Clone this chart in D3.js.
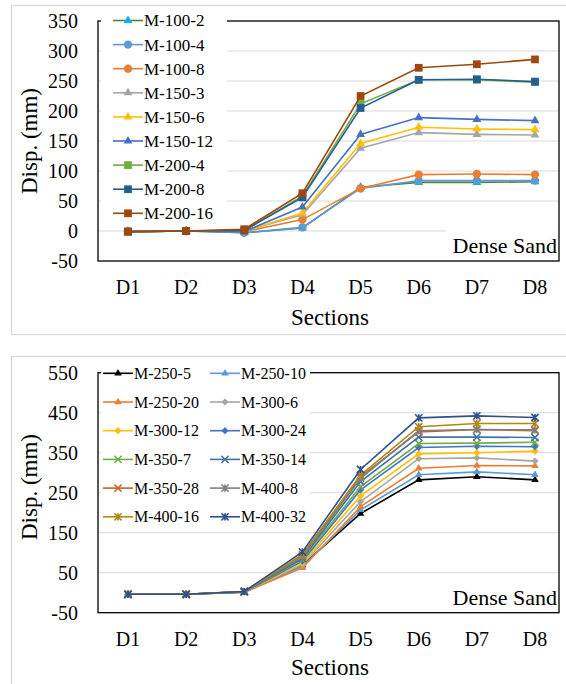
<!DOCTYPE html>
<html>
<head>
<meta charset="utf-8">
<script src="https://cdn.jsdelivr.net/npm/d3@7"></script>
<style>
  body { margin: 0; background: #fff; }
</style>
</head>
<body>
<div id="chart"></div>
<script>
// categories
let sections = ["D1", "D2", "D3", "D4", "D5", "D6", "D7", "D8"];

// top panel (dense sand, M-100..M-200)
let topNames = ["M-100-2", "M-100-4", "M-100-8", "M-150-3", "M-150-6", "M-150-12", "M-200-4", "M-200-8", "M-200-16"];
let topValues = [
    [-1, 0, -3, 5, 73, 81, 81, 82],
    [-1, 0, -3, 6, 71, 84, 84, 84],
    [-1, 0, -1, 19, 71, 94, 95, 94],
    [-1, 0, 0, 27, 138, 164, 161, 160],
    [-1, 0, 0, 30, 146, 173, 170, 169],
    [-1, 0, -1, 40, 161, 189, 186, 184],
    [-1, 0, 1, 58, 212, 252, 252, 248],
    [-1, 0, 1, 56, 205, 252, 253, 249],
    [-1, 0, 3, 63, 225, 272, 278, 286]
];
let topTicks = [-50, 0, 50, 100, 150, 200, 250, 300, 350];

// bottom panel (dense sand, M-250..M-400)
let botNames = ["M-250-5", "M-250-10", "M-250-20", "M-300-6", "M-300-12", "M-300-24",
    "M-350-7", "M-350-14", "M-350-28", "M-400-8", "M-400-16", "M-400-32"];
let botValues = [
    [-4, -4, 1, 69, 198, 282, 290, 282],
    [-4, -4, 1, 66, 207, 295, 302, 295],
    [-4, -4, 1, 62, 215, 311, 318, 317],
    [-4, -4, 2, 70, 228, 335, 337, 329],
    [-4, -4, 2, 74, 242, 347, 350, 354],
    [-4, -4, 2, 79, 257, 363, 366, 365],
    [-4, -4, 2, 83, 265, 373, 374, 376],
    [-4, -4, 2, 86, 278, 389, 389, 388],
    [-4, -4, 3, 92, 290, 402, 408, 405],
    [-4, -4, 3, 90, 286, 405, 408, 407],
    [-4, -4, 3, 96, 294, 415, 423, 423],
    [-4, -4, 3, 102, 308, 437, 442, 438]
];
let botTicks = [-50, 50, 150, 250, 350, 450, 550];

// styles
let topLine = ["#548235", "#5B9BD5", "#ED7D31", "#A5A5A5", "#FFC000", "#4472C4", "#70AD47", "#255E91", "#9E480E"];
let topFill = ["#00B0F0", "#5B9BD5", "#ED7D31", "#A5A5A5", "#FFC000", "#4472C4", "#70AD47", "#255E91", "#9E480E"];
let topShape = ["tri", "circle", "circle", "tri", "tri", "tri", "square", "square", "square"];
let botLine = ["#000000", "#5B9BD5", "#ED7D31", "#A5A5A5", "#FFC000", "#4472C4", "#70AD47", "#3F73A8", "#C5602A", "#7F7F7F", "#B08A10", "#2F4F8F"];
let botShape = ["tri", "tri", "tri", "diamond", "diamond", "diamond", "x", "x", "x", "star", "star", "star"];

let svg = d3.select("#chart").append("svg")
    .attr("width", 566)
    .attr("height", 684)
    .attr("font-family", "Liberation Serif, Times New Roman, serif");

// marker path, centred on 0,0
function marker(shape, r) {
    if (shape == "tri") return d3.symbol(d3.symbolTriangle, r * r * 1.9)();
    if (shape == "circle") return d3.symbol(d3.symbolCircle, r * r * 3.1)();
    if (shape == "square") return d3.symbol(d3.symbolSquare, r * r * 3.4)();
    if (shape == "diamond") return "M0," + (-r) + "L" + r + ",0L0," + r + "L" + (-r) + ",0Z";
    if (shape == "x") return "M" + (-r) + "," + (-r) + "L" + r + "," + r + "M" + (-r) + "," + r + "L" + r + "," + (-r);
    // star = x plus vertical bar
    return "M" + (-r) + "," + (-r) + "L" + r + "," + r + "M" + (-r) + "," + r + "L" + r + "," + (-r) + "M0," + (-r) + "L0," + r;
}

function drawMarker(g, shape, fill, x, y, r) {
    let open = shape == "x" || shape == "star";
    g.append("path")
        .attr("d", marker(shape, r))
        .attr("transform", "translate(" + x + "," + y + ")")
        .attr("fill", open ? "none" : fill)
        .attr("stroke", open ? fill : "none")
        .attr("stroke-width", open ? 1.6 : 0);
}

function panel(p) {
    let g = svg.append("g");

    // outer frame
    g.append("rect")
        .attr("x", 11.5).attr("y", p.frameTop + 0.5)
        .attr("width", 570).attr("height", p.frameH)
        .attr("fill", "none").attr("stroke", "#D9D9D9").attr("stroke-width", 1.3);

    let x = d3.scalePoint().domain(sections).range([128, 535]);
    let y = d3.scaleLinear().domain(p.domain).range([p.bottom, p.top]);

    // gridlines
    g.selectAll(".grid").data(p.ticks.slice(1, -1)).join("line")
        .attr("x1", 98).attr("x2", 559)
        .attr("y1", d => y(d)).attr("y2", d => y(d))
        .attr("stroke", "#D9D9D9").attr("stroke-width", 1);

    // plot border
    g.append("rect")
        .attr("x", 98).attr("y", p.top)
        .attr("width", 461).attr("height", p.bottom - p.top)
        .attr("fill", "none").attr("stroke", "#000").attr("stroke-width", 1.3);

    // y tick labels
    g.selectAll(".yt").data(p.ticks).join("text")
        .attr("x", 78).attr("y", d => y(d)).attr("dy", "0.35em")
        .attr("text-anchor", "end").attr("font-size", 20)
        .text(d => d);

    // x tick labels
    g.selectAll(".xt").data(sections).join("text")
        .attr("x", d => x(d)).attr("y", p.xLabelY)
        .attr("text-anchor", "middle").attr("font-size", 20)
        .text(d => d);

    g.append("text")
        .attr("x", 330).attr("y", p.xTitleY)
        .attr("text-anchor", "middle").attr("font-size", 23)
        .text("Sections");

    g.append("text")
        .attr("transform", "translate(37," + p.yTitleY + ") rotate(-90)")
        .attr("text-anchor", "middle").attr("font-size", 23)
        .text("Disp. (mm)");

    // series
    let line = d3.line().x((d, i) => x(sections[i])).y(d => y(d));
    p.values.forEach(function (vals, k) {
        g.append("path")
            .attr("d", line(vals))
            .attr("fill", "none")
            .attr("stroke", p.lineColors[k])
            .attr("stroke-width", 1.6);
        vals.forEach(function (v, i) {
            drawMarker(g, p.shapes[k], p.fillColors[k], x(sections[i]), y(v), p.markerR);
        });
    });

    // "Dense Sand" label box
    g.append("rect")
        .attr("x", 446).attr("y", p.bottom - 32)
        .attr("width", 112).attr("height", 31)
        .attr("fill", "#fff");
    g.append("text")
        .attr("x", 557).attr("y", p.bottom - 8)
        .attr("text-anchor", "end").attr("font-size", 22)
        .text("Dense Sand");

    // legend
    let L = p.legend;
    g.append("rect")
        .attr("x", 101).attr("y", L.y0)
        .attr("width", L.w).attr("height", L.h)
        .attr("fill", "#fff");
    p.names.forEach(function (name, k) {
        let col = k % L.cols, row = Math.floor(k / L.cols);
        let lx = L.x[col], ly = L.top + row * L.rowH;
        g.append("line")
            .attr("x1", lx).attr("x2", lx + 30)
            .attr("y1", ly).attr("y2", ly)
            .attr("stroke", p.lineColors[k]).attr("stroke-width", 1.6);
        drawMarker(g, p.shapes[k], p.fillColors[k], lx + 15, ly, p.markerR);
        g.append("text")
            .attr("x", lx + 31).attr("y", ly).attr("dy", "0.35em")
            .attr("font-size", L.font)
            .text(name);
    });
}

panel({
    frameTop: 5, frameH: 329,
    top: 21, bottom: 261, domain: [-50, 350], ticks: topTicks,
    xLabelY: 294, xTitleY: 325, yTitleY: 141,
    names: topNames, values: topValues,
    lineColors: topLine, fillColors: topFill, shapes: topShape, markerR: 4.2,
    legend: { y0: 8, w: 126, h: 218, cols: 1, x: [113], top: 20.5, rowH: 24.1, font: 17 }
});

panel({
    frameTop: 356, frameH: 340,
    top: 372.7, bottom: 612.7, domain: [-50, 550], ticks: botTicks,
    xLabelY: 645.5, xTitleY: 675, yTitleY: 487,
    names: botNames, values: botValues,
    lineColors: botLine, fillColors: botLine, shapes: botShape, markerR: 3.6,
    legend: { y0: 360, w: 209, h: 168, cols: 2, x: [103, 210], top: 373.3, rowH: 28.7, font: 16 }
});
</script>
</body>
</html>
